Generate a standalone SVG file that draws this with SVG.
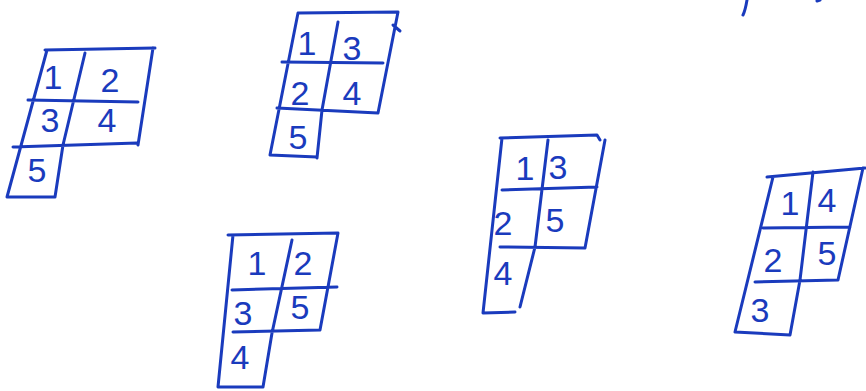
<svg xmlns="http://www.w3.org/2000/svg" width="866" height="391" viewBox="0 0 866 391">
<style>
.ln{fill:none;stroke:#1a3bbd;stroke-width:3;stroke-linecap:round;stroke-linejoin:round}
.d{font-family:"Liberation Sans","DejaVu Sans",sans-serif;font-size:34px;fill:#1a3bbd;text-anchor:middle}
</style>
<rect width="866" height="391" fill="#ffffff"/>
<g id="tableau1">
<path class="ln" d="M45,50 L155,48 M153,48 L138,145 M47,50 L7,197 L55,197 M85,53 L63,145 L55,197 M28,100 L138,102 M13,147 L137,143"/>
<text class="d" x="53" y="89">1</text>
<text class="d" x="110" y="92">2</text>
<text class="d" x="50" y="132">3</text>
<text class="d" x="107" y="132">4</text>
<text class="d" x="37" y="182">5</text>
</g>
<g id="tableau2">
<path class="ln" d="M298,13 L398,12 L378,113 M298,13 L270,155 L317,157 M338,22 L322,110 L317,158 M282,62 L383,63 M277,108 L378,113 M393,25 L400,31"/>
<text class="d" x="307" y="55">1</text>
<text class="d" x="352" y="60">3</text>
<text class="d" x="300" y="105">2</text>
<text class="d" x="352" y="105">4</text>
<text class="d" x="298" y="149">5</text>
</g>
<g id="tableau3">
<path class="ln" d="M228,235 L338,233 L320,330 M233,235 L218,387 L263,387 M292,240 L272,333 L263,387 M232,290 L337,287 M233,332 L320,330"/>
<text class="d" x="257" y="275">1</text>
<text class="d" x="303" y="275">2</text>
<text class="d" x="243" y="325">3</text>
<text class="d" x="300" y="319">5</text>
<text class="d" x="240" y="369">4</text>
</g>
<g id="tableau4">
<path class="ln" d="M500,138 L597,135 L600,140 M605,140 L585,248 M502,138 L483,313 L515,312 M548,140 L535,247 L520,307 M502,190 L597,187 M500,247 L585,248"/>
<text class="d" x="525" y="180">1</text>
<text class="d" x="558" y="179">3</text>
<text class="d" x="503" y="235">2</text>
<text class="d" x="555" y="232">5</text>
<text class="d" x="503" y="285">4</text>
</g>
<g id="tableau5">
<path class="ln" d="M767,177 L865,168 M863,168 L838,280 M773,177 L735,332 L790,335 M813,172 L800,280 L790,335 M763,228 L850,227 M755,282 L838,280"/>
<text class="d" x="790" y="215">1</text>
<text class="d" x="827" y="212">4</text>
<text class="d" x="773" y="272">2</text>
<text class="d" x="827" y="265">5</text>
<text class="d" x="760" y="322">3</text>
</g>
<g id="fragment">
<path class="ln" d="M747,0 C746,6 745,11 743,15"/>
<path class="ln" d="M817,1 L820,0"/>
</g>
</svg>
